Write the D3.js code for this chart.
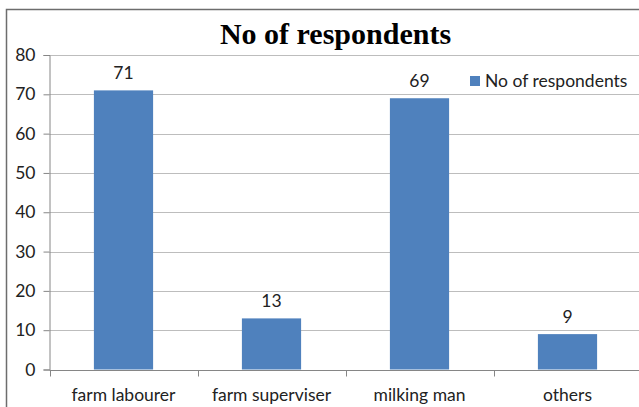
<!DOCTYPE html>
<html>
<head>
<meta charset="utf-8">
<script src="https://cdn.jsdelivr.net/npm/d3@7"></script>
<style>
  html, body { margin: 0; padding: 0; background: #fff; }
  svg { display: block; }
</style>
</head>
<body>
<svg id="chart" width="639" height="407"></svg>
<script>
// Respondents by occupation
const categories = ["farm labourer", "farm superviser", "milking man", "others"];
const respondents = [71, 13, 69, 9];
const yTicks = [0, 10, 20, 30, 40, 50, 60, 70, 80];
const seriesName = "No of respondents";
const titleText = "No of respondents";

const svg = d3.select("#chart");
const sansFont = "Lato, 'Open Sans', sans-serif";
const labelSize = 17.5;

// chart frame
svg.append("rect")
  .attr("x", 6.5).attr("y", 9.5)
  .attr("width", 660).attr("height", 420)
  .attr("fill", "#fff")
  .attr("stroke", "#6d6d6d").attr("stroke-width", 1.5);

const plot = { left: 49.5, right: 641.5, top: 55, bottom: 369.5 };

const x = d3.scaleBand()
  .domain(categories)
  .range([plot.left, plot.right])
  .paddingInner(0.6).paddingOuter(0.3);

const y = d3.scaleLinear()
  .domain([0, 80])
  .range([plot.bottom, plot.top]);

// horizontal gridlines
svg.append("g")
  .selectAll("line")
  .data(yTicks.filter(d => d > 0))
  .join("line")
  .attr("x1", plot.left).attr("x2", plot.right)
  .attr("y1", d => Math.round(y(d)) + 0.5).attr("y2", d => Math.round(y(d)) + 0.5)
  .attr("stroke", "#bdbdbd").attr("stroke-width", 1);

const rows = categories.map((c, i) => ({ c, v: respondents[i] }));

// bars
svg.append("g")
  .selectAll("rect")
  .data(rows)
  .join("rect")
  .attr("x", d => x(d.c))
  .attr("width", x.bandwidth())
  .attr("y", d => y(d.v))
  .attr("height", d => y(0) - y(d.v))
  .attr("fill", "#4f81bd");

// value labels
svg.append("g")
  .selectAll("text")
  .data(rows)
  .join("text")
  .attr("x", d => x(d.c) + x.bandwidth() / 2)
  .attr("y", d => y(d.v) - 11)
  .attr("text-anchor", "middle")
  .attr("font-family", sansFont)
  .attr("font-size", labelSize)
  .attr("fill", "#222")
  .text(d => d.v);

// y axis
const yAxis = d3.axisLeft(y).tickValues(yTicks).tickSize(6).tickPadding(8);
const gy = svg.append("g")
  .attr("transform", `translate(${plot.left},0)`)
  .call(yAxis);
gy.select(".domain").attr("stroke", "#868686");
gy.selectAll(".tick line").attr("stroke", "#868686");
gy.selectAll(".tick text")
  .attr("font-family", sansFont).attr("font-size", labelSize).attr("fill", "#222");

// x axis with tick marks between categories
const gx = svg.append("g")
  .attr("transform", `translate(0,${Math.round(y(0)) + 0.5})`);
gx.append("line")
  .attr("x1", plot.left).attr("x2", plot.right)
  .attr("stroke", "#868686");
const step = x.step();
const boundaries = d3.range(categories.length + 1).map(i => plot.left + i * step);
gx.selectAll("line.sep")
  .data(boundaries)
  .join("line")
  .attr("class", "sep")
  .attr("x1", d => Math.round(d) + 0.5).attr("x2", d => Math.round(d) + 0.5)
  .attr("y1", 0).attr("y2", 6)
  .attr("stroke", "#868686");
gx.selectAll("text")
  .data(categories)
  .join("text")
  .attr("x", d => x(d) + x.bandwidth() / 2)
  .attr("y", 30)
  .attr("text-anchor", "middle")
  .attr("font-family", sansFont)
  .attr("font-size", labelSize)
  .attr("fill", "#222")
  .text(d => d);

// title
svg.append("text")
  .attr("x", 335.5).attr("y", 44)
  .attr("text-anchor", "middle")
  .attr("font-family", "'Liberation Serif', 'Times New Roman', serif")
  .attr("font-weight", "bold")
  .attr("font-size", 30)
  .attr("fill", "#000")
  .text(titleText);

// legend
const lg = svg.append("g").attr("transform", "translate(470,76)");
lg.append("rect").attr("width", 10).attr("height", 10).attr("fill", "#4f81bd");
lg.append("text")
  .attr("x", 15).attr("y", 11)
  .attr("font-family", sansFont).attr("font-size", labelSize).attr("fill", "#222")
  .text(seriesName);
</script>
</body>
</html>
